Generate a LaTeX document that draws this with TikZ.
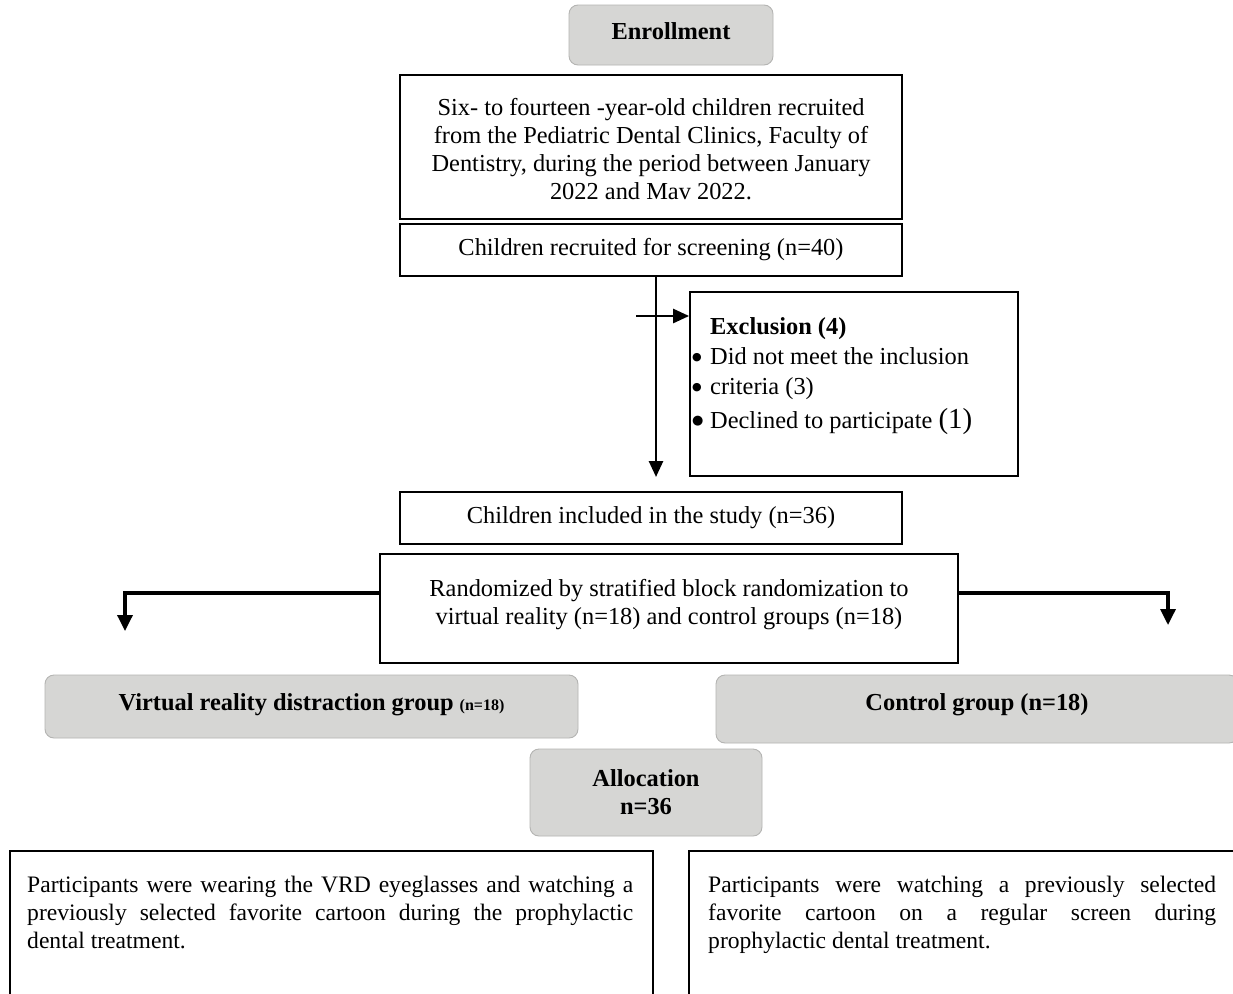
\documentclass[tikz,border=0pt]{standalone}
\usepackage{fontspec}
\setmainfont{Liberation Serif}
\newfontfamily\dejavu{DejaVu Sans}
\usetikzlibrary{arrows.meta}
\definecolor{boxgrey}{HTML}{D6D6D4}
\definecolor{edgegrey}{HTML}{B4B4B2}
\newcommand{\bul}[1]{\makebox[18pt][l]{\raisebox{4pt}{\dejavu\fontsize{#1}{#1}\selectfont●}}}
\tikzset{
  txt/.style={font=\fontsize{24.4}{28}\selectfont, inner sep=0pt},
  plainbox/.style={draw=black, line width=1.8pt, fill=white, inner sep=0pt, txt},
  greybox/.style={draw=edgegrey, line width=0.9pt, fill=boxgrey, rounded corners=9pt, inner sep=0pt, txt},
  arr/.style={line width=2.6pt, -{Triangle[length=16pt,width=14pt]}},
  elbow/.style={line width=3.4pt, -{Triangle[length=16pt,width=15pt]}}
}
\begin{document}
\begin{tikzpicture}[x=1pt,y=-1pt]
\useasboundingbox (0,0) rectangle (1233,993);
\clip (0,0) rectangle (1233,993);
\fill[white] (0,0) rectangle (1233,993);

% Enrollment
\node[greybox, minimum width=204pt, minimum height=60pt, text depth=8pt, font=\fontsize{24.4}{28}\selectfont\bfseries] (enr) at (671,35) {Enrollment};

% Recruitment box
\node[plainbox, minimum width=502pt, minimum height=144pt, align=center] (rec) at (651,147) {\rule{0pt}{22pt}Six- to fourteen -year-old children recruited\\from the Pediatric Dental Clinics, Faculty of\\Dentistry, during the period between January\\2022 and Mav 2022.};

% Screening
\node[plainbox, minimum width=502pt, minimum height=52pt] (scr) at (651,250) {Children recruited for screening (n=40)};

% Exclusion
\node[plainbox, minimum width=328pt, minimum height=184pt] (exc) at (854,384) {};
\node[txt, anchor=north west, align=left, font=\fontsize{24.4}{30}\selectfont] (exctext) at (692,317)
  {\makebox[18pt][l]{}\textbf{Exclusion (4)}\\
   \bul{11}Did not meet the inclusion\\
   \bul{11}criteria (3)\\[4pt]
   \bul{13}Declined to participate {\fontsize{29}{30}\selectfont(1)}};

% Included
\node[plainbox, minimum width=502pt, minimum height=52pt] (inc) at (651,518) {Children included in the study (n=36)};

% Randomized
\node[plainbox, minimum width=578pt, minimum height=109pt, align=center] (rnd) at (669,608.5) {Randomized by stratified block randomization to\\virtual reality (n=18) and control groups (n=18)\\[-15pt]};

% Groups
\node[greybox, minimum width=533pt, minimum height=63pt, text depth=8pt] (vrg) at (311.5,706.5) {\textbf{Virtual reality distraction group} {\fontsize{16}{16}\selectfont\textbf{(n=18)}}};
\node[greybox, minimum width=522pt, minimum height=68pt, text depth=13pt] (ctg) at (977,709) {\textbf{Control group (n=18)}};

% Allocation
\node[greybox, minimum width=232pt, minimum height=87pt, align=center, font=\fontsize{24.4}{28}\selectfont\bfseries] (alc) at (646,792.5) {Allocation\\n=36};

% Bottom boxes
\node[plainbox, minimum width=643pt, minimum height=200pt, anchor=north west] (vrbox) at (9,850) {};
\node[txt, anchor=north west, text width=606pt, align=justify, font=\fontsize{23.6}{28}\selectfont] (vrtext) at (27,876)
  {Participants were wearing the VRD eyeglasses and watching a\linebreak previously selected favorite cartoon during the prophylactic\linebreak dental treatment.};
\node[plainbox, minimum width=560pt, minimum height=200pt, anchor=north west] (ctbox) at (688,850) {};
\node[txt, anchor=north west, text width=508pt, align=justify, font=\fontsize{23.6}{28}\selectfont] (cttext) at (708,876)
  {Participants were watching a previously selected\linebreak favorite cartoon on a regular screen during\linebreak prophylactic dental treatment.};

% Connectors
\coordinate (split) at (656,316);
\coordinate (crossstart) at (636,316);
\coordinate (downtip) at (656,477);
\coordinate (vrtip) at (125,631);
\coordinate (cttip) at (1168,625);
\draw[arr] (scr.south -| split) -- (downtip);
\draw[arr] (crossstart) -- (exc.west |- crossstart);
\draw[elbow] (rnd.west |- 0,593) -| (vrtip);
\draw[elbow] (rnd.east |- 0,593) -| (cttip);
\end{tikzpicture}
\end{document}
